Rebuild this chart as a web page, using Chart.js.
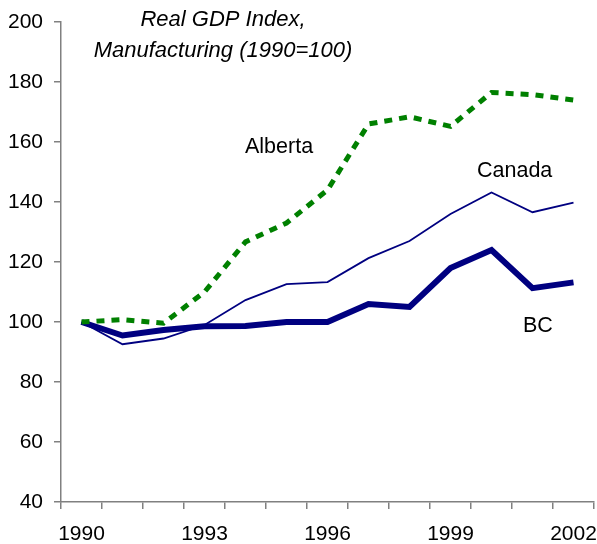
<!DOCTYPE html>
<html>
<head>
<meta charset="utf-8">
<script src="https://cdn.jsdelivr.net/npm/chart.js@4"></script>
<style>
  html, body { margin: 0; padding: 0; background: #fff; }
  #wrap { width: 597px; height: 544px; }
</style>
</head>
<body>
<div id="wrap"><canvas id="myChart"></canvas></div>
<script>
const years = ["1990","1991","1992","1993","1994","1995","1996","1997","1998","1999","2000","2001","2002"];
const bc      = [100, 95.5, 97.3, 98.6, 98.7, 100, 100, 106, 105, 118, 124, 111.3, 113.2];
const canada  = [100, 92.6, 94.5, 99, 107.3, 112.6, 113.3, 121.3, 127, 136, 143.2, 136.6, 139.8];
const alberta = [100, 100.8, 99.6, 110, 126.7, 133, 144, 166, 168.4, 165.2, 176.5, 175.8, 174];
const yTicks  = [40, 60, 80, 100, 120, 140, 160, 180, 200];

const font = "'Liberation Sans', Arial, sans-serif";

const labels = {
    id: "labels",
    afterDraw(chart) {
        let c = chart.ctx;
        c.save();
        c.fillStyle = "#000";
        c.font = "italic 22px " + font;
        c.textAlign = "center";
        c.textBaseline = "alphabetic";
        c.fillText("Real GDP Index,", 223, 26);
        c.fillText("Manufacturing (1990=100)", 223, 57);
        c.font = "21.5px " + font;
        c.textAlign = "left";
        c.fillText("Alberta", 245, 153);
        c.fillText("Canada", 477, 177);
        c.fillText("BC", 523, 332);
        c.restore();
    }
};

new Chart(document.getElementById("myChart"), {
    type: "line",
    data: {
        labels: years,
        datasets: [{
            label: "Alberta",
            data: alberta,
            borderColor: "#008000",
            borderWidth: 5,
            borderDash: [8, 7]
        }, {
            label: "Canada",
            data: canada,
            borderColor: "#000080",
            borderWidth: 1.8
        }, {
            label: "BC",
            data: bc,
            borderColor: "#000080",
            borderWidth: 6,
            borderJoinStyle: "miter"
        }]
    },
    options: {
        animation: false,
        responsive: true,
        maintainAspectRatio: false,
        layout: { padding: { top: 22, right: 3, left: 0, bottom: 0 } },
        elements: { point: { radius: 0 }, line: { tension: 0 } },
        plugins: { legend: { display: false }, tooltip: { enabled: false } },
        scales: {
            x: {
                type: "category",
                offset: true,
                grid: { offset: true, drawOnChartArea: false, color: "#808080", lineWidth: 1.5, tickLength: 7 },
                border: { color: "#808080", width: 1.5 },
                ticks: {
                    autoSkip: false,
                    maxRotation: 0,
                    padding: 13,
                    color: "#000",
                    font: { family: font, size: 21 },
                    callback: (v, i) => i % 3 === 0 ? years[i] : ""
                },
                afterFit: s => { s.height = 42; s.paddingLeft = 0; s.paddingRight = 0; }
            },
            y: {
                min: 40,
                max: 200,
                afterBuildTicks: s => { s.ticks = yTicks.map(v => ({ value: v })); },
                grid: { drawOnChartArea: false, color: "#808080", lineWidth: 1.5, tickLength: 7 },
                border: { color: "#808080", width: 1.5 },
                ticks: { padding: 11, color: "#000", font: { family: font, size: 21 } },
                afterFit: s => { s.width = 61; s.paddingTop = 0; s.paddingBottom = 0; }
            }
        }
    },
    plugins: [labels]
});
</script>
</body>
</html>
